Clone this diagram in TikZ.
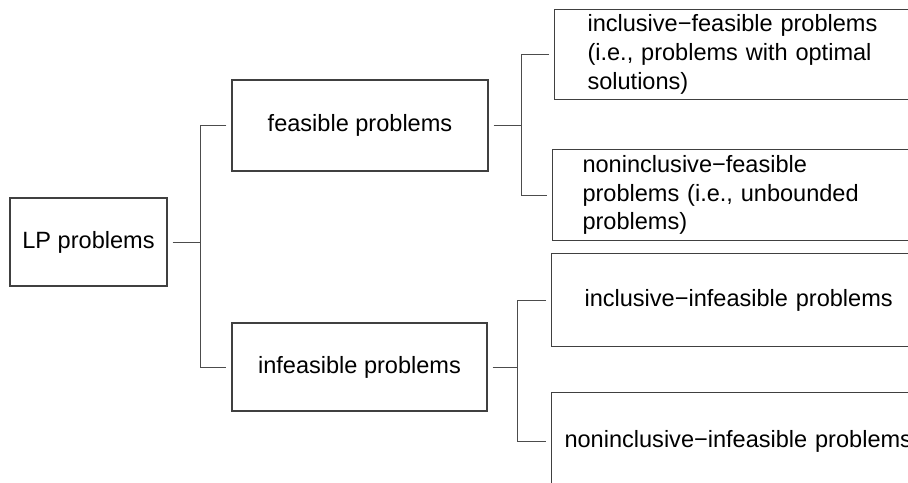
\documentclass[tikz,border=0pt]{standalone}
\usepackage{fontspec}
\setmainfont{Liberation Sans}
\tikzset{
  box/.style={draw=black!75, line width=0.6pt, inner sep=0pt, font=\fontsize{13.4}{16.4}\selectfont},
  leaf/.style={box, anchor=north west, align=left, minimum height=#1},
  link/.style={draw=black!70, line width=0.55pt}
}
\begin{document}
\begin{tikzpicture}
                \clip (0,0) rectangle (18.16,9.64);
                \node[box, minimum width=3.14cm, minimum height=1.76cm] (lp) at (1.77,4.80) {LP problems};
                \node[box, minimum width=5.12cm, minimum height=1.82cm] (feas) at (7.20,7.13) {feasible problems};
                \node[box, minimum width=5.10cm, minimum height=1.76cm] (infeas) at (7.19,2.30) {infeasible problems};
                \node[leaf=1.80cm, text width=6.2cm, inner xsep=0.66cm] (inclF) at (11.08,9.46)
                    {inclusive−feasible problems\\(i.e., problems with optimal\\solutions)\\[0.1cm]};
                \node[leaf=1.82cm, text width=6.36cm, inner xsep=0.60cm] (noninclF) at (11.04,6.66)
                    {noninclusive−feasible\\problems (i.e., unbounded\\problems)};
                \node[leaf=1.86cm, text width=6.26cm, inner xsep=0.66cm] (inclI) at (11.02,4.58)
                    {inclusive−infeasible problems};
                \node[leaf=1.96cm, text width=7.06cm, inner xsep=0.26cm] (noninclI) at (11.02,1.80)
                    {noninclusive−infeasible problems};
                \draw[link] ([xshift=1mm]lp.east) -- ([xshift=-0.62cm]feas.west |- lp.east);
                \draw[link] ([xshift=-1mm]feas.west) -- ++(-0.52,0) |- ([xshift=-1mm]infeas.west);
                \draw[link] ([xshift=1mm]feas.east) -- ++(0.56,0);
                \draw[link] ([xshift=-1mm]inclF.west) -| ([xshift=0.66cm]feas.east) |- ([xshift=-1mm]noninclF.west);
                \draw[link] ([xshift=1mm]infeas.east) -- ++(0.50,0);
                \draw[link] ([xshift=-1mm]inclI.west) -| ([xshift=0.60cm]infeas.east) |- ([xshift=-1mm]noninclI.west);
            \end{tikzpicture}
\end{document}
